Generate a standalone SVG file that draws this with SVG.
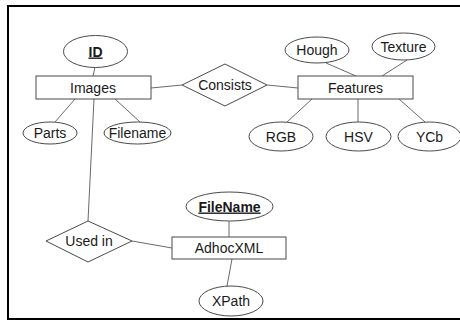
<svg xmlns="http://www.w3.org/2000/svg" width="460" height="321" viewBox="0 0 460 321">
  <style>
    .shape { fill: #ffffff; stroke: #4a4a4a; stroke-width: 1; }
    .link { fill: none; stroke: #6a6a6a; stroke-width: 1; }
    .label { font-family: "Liberation Sans", Arial, sans-serif; font-size: 14px; fill: #1a1a1a; text-anchor: middle; }
    .key { font-weight: bold; text-decoration: underline; }
  </style>
  <rect x="0" y="0" width="460" height="321" fill="#ffffff"/>
  <!-- frame: open on the right -->
  <path d="M 462 6 L 8 6 L 8 319 L 462 319" fill="none" stroke="#000000" stroke-width="2"/>

  <g id="connectors">
    <line class="link" x1="95" y1="67" x2="93" y2="76"/>
    <line class="link" x1="75" y1="99" x2="55" y2="122"/>
    <line class="link" x1="115" y1="99" x2="140" y2="122"/>
    <line class="link" x1="94" y1="99" x2="88" y2="221"/>
    <line class="link" x1="151" y1="88" x2="182" y2="85"/>
    <line class="link" x1="267" y1="85" x2="298" y2="88"/>
    <line class="link" x1="326" y1="63" x2="356" y2="76"/>
    <line class="link" x1="407" y1="60" x2="382" y2="76"/>
    <line class="link" x1="312" y1="99" x2="287" y2="122"/>
    <line class="link" x1="358" y1="99" x2="358" y2="122"/>
    <line class="link" x1="399" y1="99" x2="425" y2="122"/>
    <line class="link" x1="132" y1="241" x2="172" y2="248"/>
    <line class="link" x1="229" y1="221" x2="229" y2="237"/>
    <line class="link" x1="232" y1="259" x2="227" y2="286"/>
  </g>

  <g id="id-attr">
    <ellipse class="shape" cx="95.5" cy="51.5" rx="32" ry="16"/>
    <text class="label key" x="95.5" y="56.5">ID</text>
  </g>
  <g id="images">
    <rect class="shape" x="36" y="76" width="115" height="23"/>
    <text class="label" x="93" y="93">Images</text>
  </g>
  <g id="parts">
    <ellipse class="shape" cx="50" cy="133" rx="27" ry="11"/>
    <text class="label" x="50" y="138">Parts</text>
  </g>
  <g id="filename">
    <ellipse class="shape" cx="137.5" cy="133" rx="33.5" ry="11"/>
    <text class="label" x="137.5" y="138">Filename</text>
  </g>
  <g id="consists">
    <polygon class="shape" points="182,85 225,64 267,85 225,106"/>
    <text class="label" x="225" y="90">Consists</text>
  </g>
  <g id="features">
    <rect class="shape" x="298" y="76" width="115" height="23"/>
    <text class="label" x="355.5" y="93">Features</text>
  </g>
  <g id="hough">
    <ellipse class="shape" cx="317" cy="50" rx="32" ry="13"/>
    <text class="label" x="317" y="55">Hough</text>
  </g>
  <g id="texture">
    <ellipse class="shape" cx="403.5" cy="46.5" rx="31.5" ry="13.5"/>
    <text class="label" x="403.5" y="51.5">Texture</text>
  </g>
  <g id="rgb">
    <ellipse class="shape" cx="281" cy="136.5" rx="32" ry="14.5"/>
    <text class="label" x="281" y="141.5">RGB</text>
  </g>
  <g id="hsv">
    <ellipse class="shape" cx="358.5" cy="136.5" rx="32.5" ry="14.5"/>
    <text class="label" x="358.5" y="141.5">HSV</text>
  </g>
  <g id="ycb">
    <ellipse class="shape" cx="429.5" cy="136.5" rx="31.5" ry="14.5"/>
    <text class="label" x="429.5" y="141.5">YCb</text>
  </g>
  <g id="used-in">
    <polygon class="shape" points="46,241 88,221 132,241 88,262"/>
    <text class="label" x="89" y="246">Used in</text>
  </g>
  <g id="adhocxml">
    <rect class="shape" x="172" y="237" width="114" height="22"/>
    <text class="label" x="229" y="253">AdhocXML</text>
  </g>
  <g id="filename-key">
    <ellipse class="shape" cx="229.5" cy="206.5" rx="43.5" ry="14.5"/>
    <text class="label key" x="229.5" y="211.5">FileName</text>
  </g>
  <g id="xpath">
    <ellipse class="shape" cx="231" cy="301" rx="32" ry="15"/>
    <text class="label" x="231" y="306">XPath</text>
  </g>
</svg>
